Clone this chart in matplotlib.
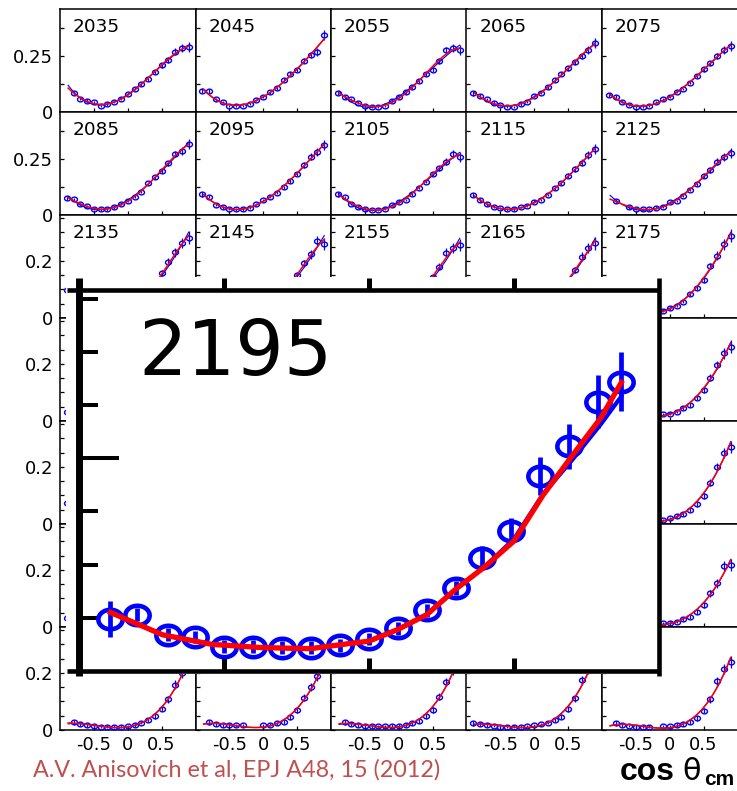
import numpy as np
import matplotlib.pyplot as plt
from matplotlib.path import Path
from matplotlib.lines import Line2D
from matplotlib.patches import Rectangle

plt.rcParams['font.family'] = 'DejaVu Sans'
plt.rcParams['axes.unicode_minus'] = False

W, H = 737, 791
nan = np.nan

# cos(theta_cm) bins of the small panels
COS = [-0.9, -0.8, -0.7, -0.6, -0.5, -0.4, -0.3, -0.2, -0.1, 0.0,
       0.1, 0.2, 0.3, 0.4, 0.5, 0.6, 0.7, 0.8, 0.9]

# beam energies, one row of panels per list
ENERGIES = [[2035, 2045, 2055, 2065, 2075],
            [2085, 2095, 2105, 2115, 2125],
            [2135, 2145, 2155, 2165, 2175],
            [2185, 2195, 2205, 2215, 2225],
            [2235, 2245, 2255, 2265, 2275],
            [2285, 2295, 2305, 2315, 2325],
            [2335, 2345, 2355, 2365, 2375]]

# cross sections (nan = no point,
# None = panel completely under the zoomed 2195 panel)
DATA = {
    2035: [nan, 0.086, 0.060, 0.051, 0.043, 0.027, 0.034, 0.043, 0.058, 0.080,
           0.103, 0.124, 0.147, 0.179, 0.208, 0.232, 0.269, 0.284, 0.290],
    2045: [0.095, 0.095, 0.057, 0.043, 0.028, 0.027, 0.027, 0.037, 0.054, 0.068,
           0.088, 0.106, 0.143, 0.170, 0.188, 0.229, 0.255, 0.266, 0.344],
    2055: [0.086, 0.068, 0.057, 0.042, 0.027, 0.021, 0.021, 0.027, 0.049, 0.068,
           0.088, 0.110, 0.138, 0.170, 0.188, 0.228, 0.277, 0.284, 0.277],
    2065: [0.083, 0.071, 0.057, 0.042, 0.030, 0.024, 0.024, 0.034, 0.043, 0.073,
           0.086, 0.110, 0.143, 0.170, 0.195, 0.222, 0.250, 0.277, 0.310],
    2075: [0.076, 0.068, 0.046, 0.031, 0.024, 0.024, 0.027, 0.043, 0.056, 0.068,
           0.091, 0.103, 0.131, 0.161, 0.190, 0.217, 0.250, 0.277, 0.295],
    2085: [0.077, 0.070, 0.049, 0.040, 0.027, 0.025, 0.025, 0.034, 0.048, 0.063,
           0.082, 0.104, 0.141, 0.168, 0.198, 0.231, 0.272, 0.287, 0.317],
    2095: [0.092, 0.082, 0.045, 0.034, 0.027, 0.025, 0.025, 0.033, 0.050, 0.067,
           0.082, 0.100, 0.124, 0.152, 0.183, 0.223, 0.260, 0.283, 0.313],
    2105: [0.092, 0.079, 0.049, 0.037, 0.027, 0.022, 0.022, 0.027, 0.045, 0.060,
           0.067, 0.092, 0.122, 0.149, 0.183, 0.208, 0.238, 0.272, 0.260],
    2115: [0.089, 0.067, 0.048, 0.037, 0.030, 0.025, 0.025, 0.037, 0.040, 0.060,
           0.067, 0.089, 0.119, 0.141, 0.176, 0.205, 0.234, 0.268, 0.295],
    2125: [nan, 0.063, nan, 0.034, 0.027, 0.025, 0.025, 0.033, 0.037, 0.057,
           0.063, 0.085, 0.112, 0.137, 0.176, 0.201, 0.238, 0.260, 0.278],
    2135: [0.098, 0.075, 0.055, 0.040, 0.030, 0.022, 0.018, 0.018, 0.022, 0.030,
           0.042, 0.058, 0.080, 0.110, 0.157, 0.198, 0.230, 0.264, 0.282],
    2145: [0.090, 0.070, 0.052, 0.038, 0.028, 0.022, 0.018, 0.018, 0.022, 0.030,
           0.042, 0.058, 0.080, 0.110, 0.151, 0.192, 0.223, 0.271, 0.260],
    2155: [0.085, 0.066, 0.050, 0.037, 0.028, 0.022, 0.018, 0.018, 0.021, 0.028,
           0.040, 0.055, 0.075, 0.105, 0.145, 0.180, 0.229, 0.245, 0.256],
    2165: [0.080, 0.062, 0.047, 0.035, 0.026, 0.020, 0.017, 0.017, 0.020, 0.027,
           0.038, 0.052, 0.072, 0.100, 0.130, 0.168, 0.215, 0.245, 0.262],
    2175: [0.075, 0.058, 0.044, 0.034, 0.027, 0.023, 0.022, 0.022, 0.025, 0.034,
           0.043, 0.057, 0.083, 0.106, 0.133, 0.182, 0.219, 0.258, 0.289],
    2185: [0.033, 0.028, 0.024, 0.020, 0.018, 0.017, 0.017, 0.018, 0.021, 0.027,
           0.036, 0.050, 0.070, 0.095, 0.125, 0.160, 0.200, 0.240, 0.270],
    2195: None, 2205: None, 2215: None,
    2225: [0.060, 0.048, 0.038, 0.030, 0.025, 0.022, 0.021, 0.021, 0.023, 0.026,
           0.033, 0.044, 0.056, 0.080, 0.109, 0.152, 0.196, 0.237, 0.261],
    2235: [0.072, 0.055, 0.042, 0.032, 0.025, 0.021, 0.019, 0.019, 0.021, 0.026,
           0.034, 0.046, 0.063, 0.086, 0.115, 0.150, 0.190, 0.230, 0.262],
    2245: None, 2255: None, 2265: None,
    2275: [0.030, 0.024, 0.019, 0.016, 0.014, 0.013, 0.013, 0.013, 0.014, 0.020,
           0.028, 0.035, 0.049, 0.069, 0.098, 0.145, 0.200, 0.249, 0.270],
    2285: [0.030, 0.024, 0.019, 0.016, 0.014, 0.013, 0.013, 0.013, 0.014, 0.017,
           0.022, 0.030, 0.042, 0.060, 0.085, 0.118, 0.158, 0.200, 0.235],
    2295: None, 2305: None, 2315: None,
    2325: [0.025, 0.020, 0.016, 0.014, 0.013, 0.012, 0.012, 0.012, 0.013, 0.015,
           0.019, 0.027, 0.036, 0.054, 0.077, 0.118, 0.153, 0.214, 0.218],
    2335: [nan, 0.027, 0.021, 0.016, 0.013, 0.012, 0.012, 0.012, 0.012, 0.013,
           0.018, 0.026, 0.034, 0.048, 0.075, 0.107, 0.159, 0.200, 0.240],
    2345: [nan, 0.027, 0.021, 0.016, 0.016, 0.016, 0.016, nan, nan, 0.016,
           0.019, 0.023, 0.028, 0.044, 0.069, 0.113, 0.150, 0.190, 0.230],
    2355: [nan, 0.027, 0.021, 0.016, 0.013, 0.013, 0.013, 0.013, 0.015, 0.015,
           0.018, 0.025, 0.033, 0.048, 0.071, 0.116, 0.168, 0.210, 0.250],
    2365: [0.023, 0.021, 0.018, 0.014, 0.012, 0.012, 0.012, 0.012, 0.014, 0.016,
           0.020, 0.026, 0.035, 0.047, 0.073, 0.111, 0.175, 0.215, 0.250],
    2375: [nan, 0.023, 0.018, 0.014, 0.012, 0.012, 0.012, nan, 0.014, 0.014,
           0.018, 0.021, 0.029, 0.041, 0.068, 0.108, 0.170, 0.213, 0.238],
}

# typical error bar per bin in the small panels
ERR = [0.010, 0.008, 0.006, 0.005, 0.005, 0.005, 0.005, 0.005, 0.005, 0.005,
       0.006, 0.006, 0.007, 0.008, 0.010, 0.012, 0.015, 0.018, 0.022]

# zoomed panel, 2195
ZOOM_X = [-0.89, -0.8, -0.69, -0.6, -0.5, -0.4, -0.3, -0.2, -0.1, 0.0,
          0.1, 0.2, 0.3, 0.39, 0.49, 0.59, 0.69, 0.79, 0.87]
ZOOM_Y = [0.049, 0.053, 0.034, 0.032, 0.023, 0.023, 0.022, 0.022, 0.024, 0.030,
          0.040, 0.057, 0.078, 0.106, 0.132, 0.183, 0.211, 0.253, 0.272]
ZOOM_ERR = [0.017, 0.006, 0.006, 0.006, 0.006, 0.006, 0.006, 0.006, 0.006, 0.006,
            0.006, 0.006, 0.007, 0.011, 0.012, 0.018, 0.021, 0.025, 0.028]
FIT_X = [-0.89, -0.71, -0.54, -0.37, -0.2, -0.09, 0.0, 0.1, 0.2, 0.3,
         0.4, 0.5, 0.6, 0.7, 0.8, 0.87]
FIT_RED = [0.055, 0.034, 0.025, 0.022, 0.021, 0.025, 0.028, 0.039, 0.053, 0.077,
           0.098, 0.122, 0.165, 0.202, 0.238, 0.271]
FIT_BLUE = [0.055, 0.034, 0.025, 0.022, 0.021, 0.025, 0.028, 0.039, 0.053, 0.077,
            0.098, 0.124, 0.166, 0.198, 0.232, 0.258]


def box(x0, y0, x1, y1):
    # pixel box (top-left origin) -> figure fraction rect
    return [x0 / W, 1 - y1 / H, (x1 - x0) / W, (y1 - y0) / H]


# slightly squashed circle, like the stretched original markers
t = np.linspace(0, 2 * np.pi, 41)
OVAL = Path(np.column_stack([np.cos(t), 0.8 * np.sin(t)]), closed=True)

fig = plt.figure(figsize=(W / 100, H / 100), dpi=100)

X0, PW, Y0, PH = 60, 135.5, 9, 103
cos = np.array(COS)
xs_fit = np.linspace(-0.88, 0.9, 80)

for i, row in enumerate(ENERGIES):
    for j, energy in enumerate(row):
        ax = fig.add_axes(box(X0 + j * PW, Y0 + i * PH, X0 + (j + 1) * PW, Y0 + (i + 1) * PH))
        ax.set_xlim(-1, 1)
        if i < 2:
            ax.set_ylim(0, 0.46)
            ax.set_yticks([0, 0.125, 0.25, 0.375])
            ax.set_yticklabels(['0', '', '0.25', ''])
        else:
            ax.set_ylim(0, 0.361)
            ax.set_yticks([0, 0.05, 0.1, 0.15, 0.2, 0.25, 0.3, 0.35])
            ax.set_yticklabels(['0', '', '', '', '0.2', '', '', ''])
        ax.set_xticks([-0.5, 0, 0.5])
        ax.set_xticklabels(['-0.5', '0', '0.5'])
        ax.tick_params(direction='in', length=3, width=0.9, labelsize=13,
                       labelleft=(j == 0), labelbottom=(i == 6))
        ax.tick_params(axis='y', pad=5)
        ax.tick_params(axis='x', pad=4)
        for sp in ax.spines.values():
            sp.set_linewidth(1.1)

        y = DATA[energy]
        if y is None:
            continue  # hidden under the zoomed panel
        ax.text(13 / PW, 1 - 23 / PH, str(energy), transform=ax.transAxes,
                fontsize=13.3, va='baseline', ha='left')
        y = np.array(y)
        m = ~np.isnan(y)
        # fit curves: blue underneath, red on top
        blue = np.polyfit(cos[m], y[m], 3)
        red = np.polyfit(cos[m], y[m], 4)
        ax.plot(xs_fit, np.polyval(blue, xs_fit), color='blue', lw=0.8, zorder=2)
        ax.errorbar(cos[m], y[m], yerr=np.array(ERR)[m], fmt='none',
                    ecolor='blue', elinewidth=0.9, capsize=0, zorder=3)
        ax.plot(cos[m], y[m], ls='none', marker=OVAL, ms=4.3, mew=1.0,
                mfc='none', mec='blue', zorder=4)
        ax.plot(xs_fit, np.polyval(red, xs_fit), color='red', lw=1.1, zorder=5)

# white pad for the zoomed panel
fig.add_artist(Rectangle((66 / W, 1 - 674 / H), (661 - 66) / W, (674 - 277) / H,
                         transform=fig.transFigure, facecolor='white',
                         edgecolor='none', zorder=5))

zx = fig.add_axes(box(78.5, 290, 659, 671))
zx.set_zorder(6)
zx.patch.set_alpha(0)
zx.set_xlim(-1, 1)
zx.set_ylim(0, 0.358)
for sp in zx.spines.values():
    sp.set_visible(False)
zx.set_xticks([-0.5, 0, 0.5])
zx.set_xticklabels([])
zx.tick_params(axis='x', direction='in', length=9.4, width=3.6, bottom=True, top=False)
zx.set_yticks([0.2])
zx.set_yticks([0.05, 0.1, 0.15, 0.25, 0.3, 0.35], minor=True)
zx.set_yticklabels([])
zx.tick_params(axis='y', which='major', direction='in', length=29, width=2.9)
zx.tick_params(axis='y', which='minor', direction='in', length=14, width=2.9)
top = zx.secondary_xaxis('top')
top.set_xticks([-0.5, 0, 0.5])
top.set_xticklabels([])
top.tick_params(direction='out', length=8.6, width=3.6)
top.spines['top'].set_visible(False)

zx.plot(FIT_X, FIT_BLUE, color='blue', lw=3, zorder=2)
zx.errorbar(ZOOM_X, ZOOM_Y, yerr=ZOOM_ERR, fmt='none', ecolor='blue',
            elinewidth=3.4, capsize=0, zorder=3)
zx.plot(ZOOM_X, ZOOM_Y, ls='none', marker=OVAL, ms=17.5, mew=3.3,
        mfc='none', mec='blue', zorder=4)
zx.plot(FIT_X, FIT_RED, color='red', lw=3.8, zorder=5)

# frame of the zoomed panel, axis lines overhang like the original
frame = [((78.5, 78.5), (278, 676), 5.0),
         ((659, 659), (278, 676), 3.3),
         ((67, 659), (290, 290), 3.3),
         ((67, 659), (671, 671), 3.3)]
for (xa, xb), (ya, yb), lw in frame:
    fig.add_artist(Line2D([xa / W, xb / W], [1 - ya / H, 1 - yb / H],
                          transform=fig.transFigure, color='black', lw=lw,
                          solid_capstyle='butt', zorder=7))

fig.text(138 / W, 1 - 375 / H, '2195', fontsize=55, va='baseline', zorder=8)

# axis title and reference
fig.text(620 / W, 1 - 780 / H, 'cos', family='Liberation Sans', weight='bold',
         fontsize=23, va='baseline')
fig.text(682 / W, 1 - 780 / H, '\u03b8', fontsize=22, va='baseline')
fig.text(704 / W, 1 - 785 / H, 'cm', family='Liberation Sans', weight='bold',
         fontsize=15, va='baseline')
fig.text(33 / W, 1 - 777 / H, 'A.V. Anisovich et al, EPJ A48, 15 (2012)',
         family='Lato', color='#C0504D', fontsize=16.8, va='baseline')

plt.savefig('out.png', dpi=100)
